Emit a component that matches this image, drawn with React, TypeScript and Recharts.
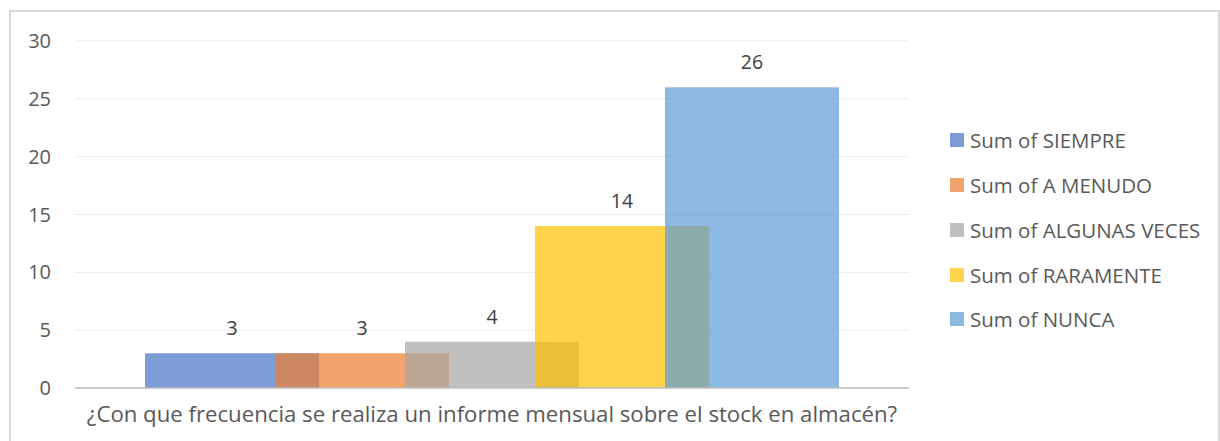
import { Bar, BarChart, CartesianGrid, LabelList, XAxis, YAxis } from 'recharts'

const CATEGORY = ['¿Con que frecuencia se realiza un informe mensual sobre el stock en almacén?']
const SERIES = ['Sum of SIEMPRE', 'Sum of A MENUDO', 'Sum of ALGUNAS VECES', 'Sum of RARAMENTE', 'Sum of NUNCA']
const VALUES = [3, 3, 4, 14, 26]
const Y_TICKS = [0, 5, 10, 15, 20, 25, 30]

// Office palette, drawn at 70% so the overlapping bars show through.
const COLORS = ['#4472C4', '#ED7D31', '#A5A5A5', '#FFC000', '#5B9BD5']
const ALPHA = 0.7
const FONT = '"Open Sans", sans-serif'

const data = CATEGORY.map((c) => {
  const row: Record<string, number | string> = { name: c }
  SERIES.forEach((s, i) => (row[s] = VALUES[i]))
  return row
})

// Legend drawn as plain HTML so it does not eat into the plot width.
function LegendBox() {
  return (
    <div style={{ position: 'absolute', left: 950, top: 118, fontFamily: FONT, fontSize: 20.5, color: '#595959', whiteSpace: 'nowrap' }}>
      {SERIES.map((s, i) => (
        <div key={s} style={{ display: 'flex', alignItems: 'center', height: 44.75 }}>
          <span style={{ width: 14, height: 14, background: COLORS[i], opacity: ALPHA, marginRight: 6 }} />
          <span>{s}</span>
        </div>
      ))}
    </div>
  )
}

export default function App() {
  return (
    <div style={{ position: 'absolute', left: 0, top: 0, width: 1220, height: 441, background: '#fff', overflow: 'hidden' }}>
      <div style={{ position: 'absolute', left: 9, top: 10, width: 1211, height: 460, border: '2px solid #D9D9D9', boxSizing: 'border-box' }} />
      <div style={{ position: 'absolute', left: 0, top: 0 }}>
        <BarChart width={1220} height={441} data={data} barGap={-44} margin={{ top: 41, right: 311, left: 10, bottom: 13 }}>
          <CartesianGrid stroke="#EBEBEB" vertical={false} />
          <XAxis dataKey="name" height={40} tickLine={false} tickSize={0} tickMargin={18} axisLine={{ stroke: '#BFBFBF', strokeWidth: 1.5 }}
            tick={{ fontSize: 22.2, fill: '#595959', fontFamily: FONT }} />
          <YAxis width={65} domain={[0, 30]} ticks={Y_TICKS} tickLine={false} axisLine={false} tickSize={0} tickMargin={24}
            tick={{ fontSize: 20, fill: '#595959', fontFamily: FONT }} />
          {SERIES.map((s, i) => (
            <Bar key={s} dataKey={s} barSize={174} fill={COLORS[i]} fillOpacity={ALPHA} isAnimationActive={false}>
              <LabelList dataKey={s} position="top" offset={18} style={{ fontSize: 19.5, fill: '#404040', fontFamily: FONT }} />
            </Bar>
          ))}
        </BarChart>
      </div>
      <LegendBox />
    </div>
  )
}
